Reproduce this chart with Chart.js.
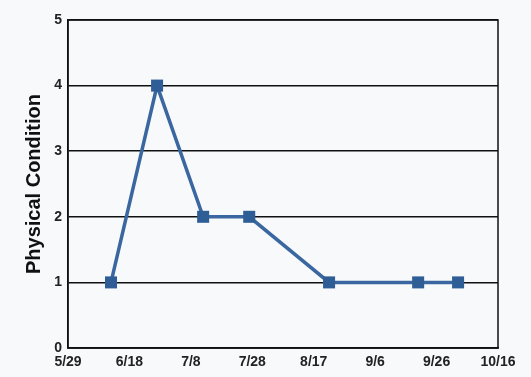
<!DOCTYPE html>
<html>
<head>
<meta charset="utf-8">
<script src="https://cdn.jsdelivr.net/npm/chart.js@4"></script>
<style>
  body { margin: 0; background: #f7f9fb; }
  #chart { display: block; }
</style>
</head>
<body>
<canvas id="chart" width="531" height="377"></canvas>
<script>
// observation dates and condition scores
var dates = ['6/12', '6/27', '7/12', '7/27', '8/22', '9/20', '10/3'];
var condition = [1, 4, 2, 2, 1, 1, 1];
var tickLabels = ['5/29', '6/18', '7/8', '7/28', '8/17', '9/6', '9/26', '10/16'];

var start = new Date(2013, 4, 29);
function dayOffset(s) {
    var p = s.split('/');
    var d = new Date(2013, parseInt(p[0]) - 1, parseInt(p[1]));
    return Math.round((d - start) / 86400000);
}

var points = dates.map(function (d, i) { return { x: dayOffset(d), y: condition[i] }; });

var frame = {
    id: 'frame',
    afterDraw: function (chart) {
        var a = chart.chartArea, c = chart.ctx;
        c.save();
        c.strokeStyle = '#111';
        c.lineWidth = 1.5;
        c.strokeRect(a.left, a.top, a.right - a.left, a.bottom - a.top);
        c.restore();
    }
};

var tickFont = { family: "'Liberation Sans Narrow', 'Liberation Sans', Arial", size: 14, weight: 'bold' };

var ctx = document.getElementById('chart').getContext('2d');
var myChart = new Chart(ctx, {
    type: 'line',
    data: {
        datasets: [{
            label: 'Physical Condition',
            data: points,
            borderColor: '#3a67a0',
            backgroundColor: '#2f5e97',
            borderWidth: 3.5,
            pointStyle: 'rect',
            pointRadius: 8.5,
            pointBorderWidth: 0,
            tension: 0
        }]
    },
    options: {
        responsive: false,
        animation: false,
        layout: { padding: { left: 18, right: 33, top: 20, bottom: 3 } },
        plugins: { legend: { display: false }, tooltip: { enabled: false } },
        scales: {
            x: {
                type: 'linear',
                min: 0,
                max: 140,
                grid: { display: false, drawTicks: false },
                border: { color: '#111', width: 1.5 },
                ticks: {
                    stepSize: 20,
                    padding: 6,
                    color: '#222',
                    font: tickFont,
                    callback: function (v) { return tickLabels[v / 20]; }
                },
                afterFit: function (s) { s.height = 26; }
            },
            y: {
                min: 0,
                max: 5,
                grid: { color: '#111', lineWidth: 1.5, drawTicks: false },
                border: { color: '#111', width: 1.5 },
                ticks: {
                    stepSize: 1,
                    padding: 6,
                    color: '#222',
                    font: tickFont
                },
                title: {
                    display: true,
                    text: 'Physical Condition',
                    color: '#111',
                    font: { family: "'Liberation Sans', Arial", size: 20, weight: 'bold' },
                    padding: { top: 4, bottom: 0 }
                },
                afterFit: function (s) { s.width = 50; }
            }
        }
    },
    plugins: [frame]
});
</script>
</body>
</html>
